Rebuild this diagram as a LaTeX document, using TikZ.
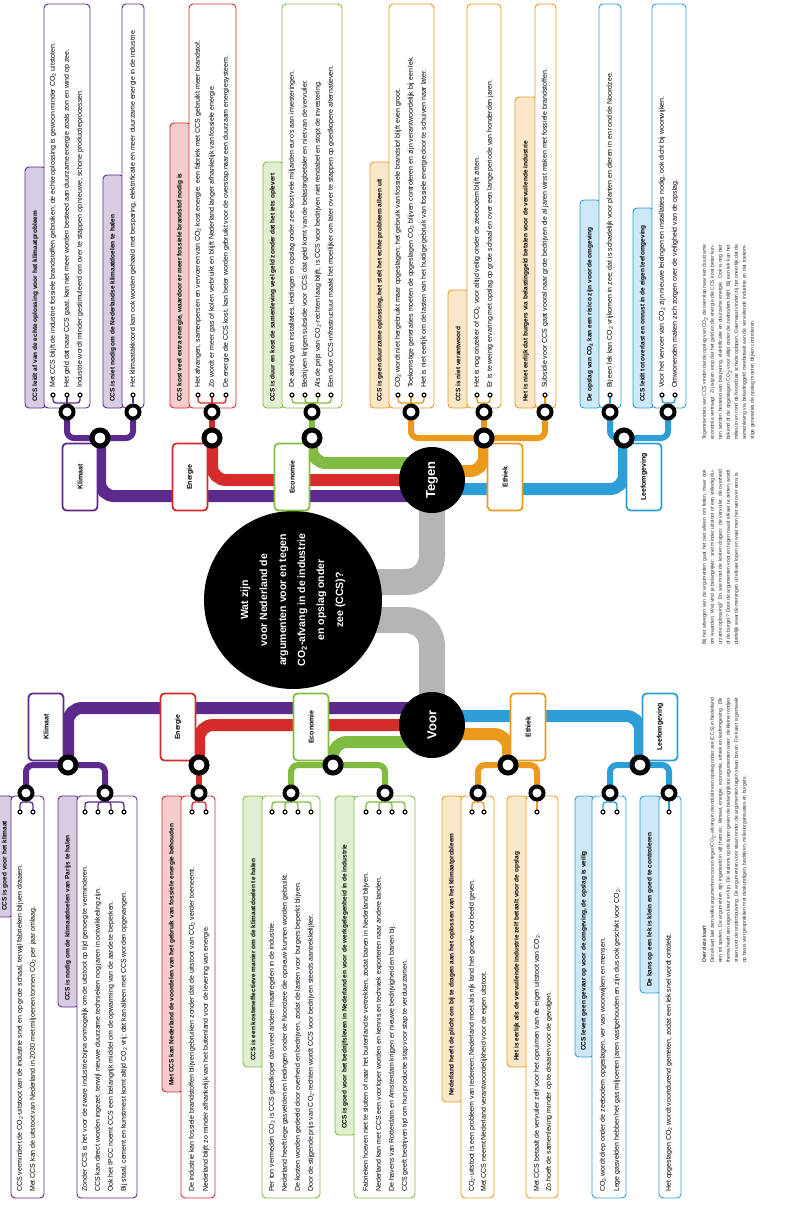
\documentclass[tikz,border=0pt]{standalone}
\usepackage{fontspec}
\setmainfont{Liberation Sans}
\definecolor{klimaat}{HTML}{5B2A8C}
\definecolor{energie}{HTML}{D52B2B}
\definecolor{economie}{HTML}{80BC41}
\definecolor{ethiek}{HTML}{EC9A1E}
\definecolor{leef}{HTML}{2E9ED8}
\definecolor{spoor}{HTML}{B5B5B5}
\newcommand{\COtwo}{CO\textsubscript{2}}
\pgfdeclarelayer{bg}
\pgfsetlayers{bg,main}

\begin{document}
\begin{tikzpicture}[x=1pt, y=-1pt,
  route/.style={line width=12pt, rounded corners=14pt},
  gray route/.style={line width=26pt, rounded corners=26pt, spoor},
  branch/.style={line width=6pt, rounded corners=7pt},
  twig/.style={line width=1.3pt, rounded corners=3pt},
  hub/.style={circle, fill=black, text=white, rotate=90, minimum size=66pt, inner sep=0pt, font=\bfseries\fontsize{13}{13}\selectfont},
  station/.style={circle, draw=black, fill=white, line width=5pt, minimum size=16pt, inner sep=0pt},
  substation/.style={circle, draw=black, fill=white, line width=4pt, minimum size=13pt, inner sep=0pt},
  halte/.style={circle, draw=black, fill=white, line width=1.1pt, minimum size=4pt, inner sep=0pt},
  catbox/.style={draw=#1, fill=white, line width=1.8pt, rounded corners=4pt, rotate=90, minimum width=67pt, minimum height=35pt, inner sep=1pt, font=\bfseries\fontsize{7}{7}\selectfont},
  claim/.style={draw=#1, fill=#1!24, line width=0.9pt, rounded corners=4pt},
  card/.style={draw=#1, fill=white, line width=0.9pt, rounded corners=4pt},
  claimtext/.style={rotate=90, anchor=west, inner sep=0pt, font=\bfseries\fontsize{6.5}{6.5}\selectfont},
  cardtext/.style={rotate=90, anchor=west, inner sep=0pt, font=\fontsize{7}{7}\selectfont},
  note/.style={rotate=90, anchor=north west, inner sep=0pt, align=justify, text=black!85, font=\fontsize{5}{8}\selectfont}]
\useasboundingbox (0,0) rectangle (807,1205);

% stations tegen
\coordinate (tKl) at (100,438);
\coordinate (tKla) at (67,412);
\coordinate (tKlb) at (133,412);
\coordinate (tEn) at (212,438);
\coordinate (tEna) at (212,412);
\coordinate (tEc) at (312,438);
\coordinate (tEca) at (312,412);
\coordinate (tEt) at (484,438);
\coordinate (tEta) at (411,412);
\coordinate (tEtb) at (484,412);
\coordinate (tEtc) at (545,412);
\coordinate (tLe) at (624,438);
\coordinate (tLea) at (610,412);
\coordinate (tLeb) at (668,412);
% stations voor
\coordinate (vKl) at (68,765);
\coordinate (vKla) at (26,793);
\coordinate (vKlb) at (105,793);
\coordinate (vEn) at (199,765);
\coordinate (vEna) at (199,793);
\coordinate (vEc) at (333,765);
\coordinate (vEca) at (291,793);
\coordinate (vEcb) at (385,793);
\coordinate (vEt) at (508,765);
\coordinate (vEta) at (478,793);
\coordinate (vEtb) at (537,793);
\coordinate (vLe) at (640,765);
\coordinate (vLea) at (610,793);
\coordinate (vLeb) at (669,793);

\node[hub, minimum size=178pt, align=center, font=\bfseries\fontsize{10.5}{19}\selectfont] (vraag) at (293,600)
  {Wat zijn\\voor Nederland de\\argumenten voor en tegen\\\COtwo-afvang in de industrie\\en opslag onder\\zee (CCS)?};
\node[hub] (tegen) at (432,480) {Tegen};
\node[hub] (voor) at (432,725) {Voor};

\node[catbox=klimaat] (tKlbox) at (80,477) {Klimaat};
\node[catbox=energie] (tEnbox) at (190,477) {Energie};
\node[catbox=economie] (tEcbox) at (292,477) {Economie};
\node[catbox=ethiek] (tEtbox) at (505,477) {Ethiek};
\node[catbox=leef] (tLebox) at (644,477) {Leefomgeving};
\node[catbox=klimaat] (vKlbox) at (46,727) {Klimaat};
\node[catbox=energie] (vEnbox) at (178,727) {Energie};
\node[catbox=economie] (vEcbox) at (311,727) {Economie};
\node[catbox=ethiek] (vEtbox) at (528,727) {Ethiek};
\node[catbox=leef] (vLebox) at (660,727) {Leefomgeving};

\begin{pgfonlayer}{bg}
  \draw[gray route] ([yshift=18pt]vraag.center) -| (tegen.center);
  \draw[gray route] ([yshift=-20pt]vraag.center) -| (voor.center);
  % lijnen tegen
  \draw[route, economie] ([yshift=17pt]tegen.center) -| (tEc);
  \draw[route, energie] (tegen.center) -| (tEn);
  \draw[route, klimaat] ([yshift=-16pt]tegen.center) -| (tKl);
  \draw[route, ethiek] ([yshift=9pt]tegen.center) -| (tEt);
  \draw[route, leef] ([yshift=-9pt]tegen.center) -| (tLe);
  % lijnen voor
  \draw[route, klimaat] ([yshift=17pt]voor.center) -| (vKl);
  \draw[route, energie] (voor.center) -| (vEn);
  \draw[route, economie] ([yshift=-17pt]voor.center) -| (vEc);
  \draw[route, leef] ([yshift=9pt]voor.center) -| (vLe);
  \draw[route, ethiek] ([yshift=-9pt]voor.center) -| (vEt);
  % zijtakken
  \draw[branch, klimaat] (tKla) |- (tKl) -| (tKlb);
  \draw[branch, energie] (tEna) -- (tEn);
  \draw[branch, economie] (tEca) -- (tEc);
  \draw[branch, ethiek] (tEta) |- (tEt) -| (tEtc);
  \draw[branch, ethiek] (tEtb) -- (tEt);
  \draw[branch, leef] (tLea) |- (tLe) -| (tLeb);
  \draw[branch, klimaat] (vKla) |- (vKl) -| (vKlb);
  \draw[branch, energie] (vEna) -- (vEn);
  \draw[branch, economie] (vEca) |- (vEc) -| (vEcb);
  \draw[branch, ethiek] (vEta) |- (vEt) -| (vEtb);
  \draw[branch, leef] (vLea) |- (vLe) -| (vLeb);
\end{pgfonlayer}

% ---- tegen: klimaat
\draw[claim=klimaat] (25,167) rectangle (46,408);
\node[claimtext] (tKla-kop) at (35.5,402) {CCS leidt af van de echte oplossing voor het klimaatprobleem};
\draw[card=klimaat] (44,4) rectangle (90,408);
\node[cardtext] (tKla-1) at (53,388) {Met CCS blijft de industrie fossiele brandstoffen gebruiken; de echte oplossing is gewoon minder \COtwo\ uitstoten.};
\node[cardtext] (tKla-2) at (67,388) {Het geld dat naar CCS gaat, kan niet meer worden besteed aan duurzame energie zoals zon en wind op zee.};
\node[cardtext] (tKla-3) at (80,388) {Industrie wordt minder gestimuleerd om over te stappen op nieuwe, schone productieprocessen.};
\draw[claim=klimaat] (103,175) rectangle (124,408);
\node[claimtext] (tKlb-kop) at (113,402) {CCS is niet nodig om de Nederlandse klimaatdoelen te halen};
\draw[card=klimaat] (122,4) rectangle (144,408);
\node[cardtext] (tKlb-1) at (133,388) {Het klimaatakkoord kan ook worden gehaald met besparing, elektrificatie en meer duurzame energie in de industrie.};
% ---- tegen: energie
\draw[claim=energie] (170,123) rectangle (191,408);
\node[claimtext] (tEna-kop) at (180,402) {CCS kost veel extra energie, waardoor er meer fossiele brandstof nodig is};
\draw[card=energie] (189,4) rectangle (236,408);
\node[cardtext] (tEna-1) at (198,388) {Het afvangen, samenpersen en vervoeren van \COtwo\ kost energie: een fabriek met CCS gebruikt meer brandstof.};
\node[cardtext] (tEna-2) at (212,388) {Zo wordt er meer gas of kolen verbruikt en blijft Nederland langer afhankelijk van fossiele energie.};
\node[cardtext] (tEna-3) at (226,388) {De energie die CCS kost, kan beter worden gebruikt voor de overstap naar een duurzaam energiesysteem.};
% ---- tegen: economie
\draw[claim=economie] (263,162) rectangle (284,408);
\node[claimtext] (tEca-kop) at (273,402) {CCS is duur en kost de samenleving veel geld zonder dat het iets oplevert};
\draw[card=economie] (282,4) rectangle (342,408);
\node[cardtext] (tEca-1) at (292,388) {De aanleg van installaties, leidingen en opslag onder zee kost vele miljarden euro's aan investeringen.};
\node[cardtext] (tEca-2) at (305,388) {Bedrijven krijgen subsidie voor CCS; dat geld komt van de belastingbetaler en niet van de vervuiler.};
\node[cardtext] (tEca-3) at (318,388) {Als de prijs van \COtwo-rechten laag blijft, is CCS voor bedrijven niet rendabel en stopt de investering.};
\node[cardtext] (tEca-4) at (331,388) {Een dure CCS-infrastructuur maakt het moeilijker om later over te stappen op goedkopere alternatieven.};
% ---- tegen: ethiek
\draw[claim=ethiek] (370,162) rectangle (391,408);
\node[claimtext] (tEta-kop) at (380,402) {CCS is geen duurzame oplossing, het stelt het echte probleem alleen uit};
\draw[card=ethiek] (389,4) rectangle (434,408);
\node[cardtext] (tEta-1) at (398,388) {\COtwo\ wordt niet hergebruikt maar opgeslagen; het gebruik van fossiele brandstof blijft even groot.};
\node[cardtext] (tEta-2) at (411,388) {Toekomstige generaties moeten de opgeslagen \COtwo\ blijven controleren en zijn verantwoordelijk bij een lek.};
\node[cardtext] (tEta-3) at (424,388) {Het is niet eerlijk om de lasten van het huidige gebruik van fossiele energie door te schuiven naar later.};
\draw[claim=ethiek] (448,290) rectangle (469,408);
\node[claimtext] (tEtb-kop) at (458,402) {CCS is niet verantwoord};
\draw[card=ethiek] (467,4) rectangle (501,408);
\node[cardtext] (tEtb-1) at (477,388) {Het is nog onzeker of \COtwo\ voor altijd veilig onder de zeebodem blijft zitten.};
\node[cardtext] (tEtb-2) at (490,388) {Er is te weinig ervaring met opslag op grote schaal en over een lange periode van honderden jaren.};
\draw[claim=ethiek] (515,97) rectangle (537,408);
\node[claimtext] (tEtc-kop) at (526,402) {Het is niet eerlijk dat burgers via belastinggeld betalen voor de vervuilende industrie};
\draw[card=ethiek] (535,4) rectangle (556,408);
\node[cardtext] (tEtc-1) at (545,388) {Subsidie voor CCS gaat vooral naar grote bedrijven die al jaren winst maken met fossiele brandstoffen.};
% ---- tegen: leefomgeving
\draw[claim=leef] (580,200) rectangle (601,408);
\node[claimtext] (tLea-kop) at (590,402) {De opslag van \COtwo\ kan een risico zijn voor de omgeving};
\draw[card=leef] (599,4) rectangle (621,408);
\node[cardtext] (tLea-1) at (610,388) {Bij een lek kan \COtwo\ vrijkomen in zee; dat is schadelijk voor planten en dieren in en rond de Noordzee.};
\draw[claim=leef] (633,208) rectangle (654,408);
\node[claimtext] (tLeb-kop) at (643,402) {CCS leidt tot overlast en onrust in de eigen leefomgeving};
\draw[card=leef] (652,4) rectangle (686,408);
\node[cardtext] (tLeb-1) at (662,388) {Voor het vervoer van \COtwo\ zijn nieuwe leidingen en installaties nodig, ook dicht bij woonwijken.};
\node[cardtext] (tLeb-2) at (675,388) {Omwonenden maken zich zorgen over de veiligheid van de opslag.};

% ---- voor: klimaat
\draw[claim=klimaat] (-8,796) rectangle (13,917);
\node[claimtext] (vKla-kop) at (5,911) {CCS is goed voor het klimaat};
\draw[card=klimaat] (11,796) rectangle (44,1198);
\node[cardtext] (vKla-1) at (20,1192) {CCS vermindert de \COtwo-uitstoot van de industrie snel en op grote schaal, terwijl fabrieken blijven draaien.};
\node[cardtext] (vKla-2) at (33,1192) {Met CCS kan de uitstoot van Nederland in 2030 met miljoenen tonnen \COtwo\ per jaar omlaag.};
\draw[claim=klimaat] (58,796) rectangle (79,1007);
\node[claimtext] (vKlb-kop) at (68,1001) {CCS is nodig om de klimaatdoelen van Parijs te halen};
\draw[card=klimaat] (77,796) rectangle (137,1198);
\node[cardtext] (vKlb-1) at (85,1192) {Zonder CCS is het voor de zware industrie bijna onmogelijk om de uitstoot op tijd genoeg te verminderen.};
\node[cardtext] (vKlb-2) at (98,1192) {CCS kan direct worden ingezet, terwijl nieuwe duurzame technieken nog jaren in ontwikkeling zijn.};
\node[cardtext] (vKlb-3) at (111,1192) {Ook het IPCC noemt CCS een belangrijk middel om de opwarming van de aarde te beperken.};
\node[cardtext] (vKlb-4) at (124,1192) {Bij staal, cement en kunstmest komt altijd \COtwo\ vrij; dat kan alleen met CCS worden opgevangen.};
% ---- voor: energie
\draw[claim=energie] (162,796) rectangle (183,1092);
\node[claimtext] (vEna-kop) at (172,1086) {Met CCS kan Nederland de voordelen van het gebruik van fossiele energie behouden};
\draw[card=energie] (181,796) rectangle (215,1198);
\node[cardtext] (vEna-1) at (192,1192) {De industrie kan fossiele brandstoffen blijven gebruiken zonder dat de uitstoot van \COtwo\ verder toeneemt.};
\node[cardtext] (vEna-2) at (206,1192) {Nederland blijft zo minder afhankelijk van het buitenland voor de levering van energie.};
% ---- voor: economie
\draw[claim=economie] (243,796) rectangle (264,1067);
\node[claimtext] (vEca-kop) at (253,1061) {CCS is een kosteneffectieve manier om de klimaatdoelen te halen};
\draw[card=economie] (262,796) rectangle (320,1198);
\node[cardtext] (vEca-1) at (272,1192) {Per ton vermeden \COtwo\ is CCS goedkoper dan veel andere maatregelen in de industrie.};
\node[cardtext] (vEca-2) at (285,1192) {Nederland heeft lege gasvelden en leidingen onder de Noordzee die opnieuw kunnen worden gebruikt.};
\node[cardtext] (vEca-3) at (298,1192) {De kosten worden gedeeld door overheid en bedrijven, zodat de lasten voor burgers beperkt blijven.};
\node[cardtext] (vEca-4) at (311,1192) {Door de stijgende prijs van \COtwo-rechten wordt CCS voor bedrijven steeds aantrekkelijker.};
\draw[claim=economie] (335,796) rectangle (356,1135);
\node[claimtext] (vEcb-kop) at (345,1129) {CCS is goed voor het bedrijfsleven in Nederland en voor de werkgelegenheid in de industrie};
\draw[card=economie] (354,796) rectangle (415,1198);
\node[cardtext] (vEcb-1) at (366,1192) {Fabrieken hoeven niet te sluiten of naar het buitenland te vertrekken, zodat banen in Nederland blijven.};
\node[cardtext] (vEcb-2) at (379,1192) {Nederland kan met CCS een voorloper worden en kennis en techniek exporteren naar andere landen.};
\node[cardtext] (vEcb-3) at (392,1192) {De havens van Rotterdam en Amsterdam krijgen er nieuwe bedrijvigheid en banen bij.};
\node[cardtext] (vEcb-4) at (405,1192) {CCS geeft bedrijven tijd om hun productie stap voor stap te verduurzamen.};
% ---- voor: ethiek
\draw[claim=ethiek] (442,796) rectangle (463,1102);
\node[claimtext] (vEta-kop) at (452,1096) {Nederland heeft de plicht om bij te dragen aan het oplossen van het klimaatprobleem};
\draw[card=ethiek] (461,796) rectangle (494,1198);
\node[cardtext] (vEta-1) at (472,1192) {\COtwo-uitstoot is een probleem van iedereen; Nederland moet als rijk land het goede voorbeeld geven.};
\node[cardtext] (vEta-2) at (484,1192) {Met CCS neemt Nederland verantwoordelijkheid voor de eigen uitstoot.};
\draw[claim=ethiek] (507,796) rectangle (528,1067);
\node[claimtext] (vEtb-kop) at (517,1061) {Het is eerlijk als de vervuilende industrie zelf betaalt voor de opslag};
\draw[card=ethiek] (526,796) rectangle (558,1198);
\node[cardtext] (vEtb-1) at (537,1192) {Met CCS betaalt de vervuiler zelf voor het opruimen van de eigen uitstoot van \COtwo.};
\node[cardtext] (vEtb-2) at (549,1192) {Zo hoeft de samenleving minder op te draaien voor de gevolgen.};
% ---- voor: leefomgeving
\draw[claim=leef] (575,796) rectangle (594,1057);
\node[claimtext] (vLea-kop) at (584,1051) {CCS levert geen gevaar op voor de omgeving, de opslag is veilig};
\draw[card=leef] (592,796) rectangle (626,1198);
\node[cardtext] (vLea-1) at (603,1192) {\COtwo\ wordt diep onder de zeebodem opgeslagen, ver van woonwijken en mensen.};
\node[cardtext] (vLea-2) at (617,1192) {Lege gasvelden hebben het gas miljoenen jaren vastgehouden en zijn dus ook geschikt voor \COtwo.};
\draw[claim=leef] (640,796) rectangle (661,993);
\node[claimtext] (vLeb-kop) at (650,987) {De kans op een lek is klein en goed te controleren};
\draw[card=leef] (659,796) rectangle (681,1198);
\node[cardtext] (vLeb-1) at (669,1192) {Het opgeslagen \COtwo\ wordt voortdurend gemeten, zodat een lek snel wordt ontdekt.};

% takjes naar de haltes
\foreach \x in {53,67,80} {\draw[twig, klimaat] (\x,395) |- ([yshift=9pt]tKla); \node[halte] (tKla-\x) at (\x,395) {};}
\foreach \x in {133} {\draw[twig, klimaat] (\x,395) |- ([yshift=9pt]tKlb); \node[halte] (tKlb-\x) at (\x,395) {};}
\foreach \x in {198,212,226} {\draw[twig, energie] (\x,395) |- ([yshift=9pt]tEna); \node[halte] (tEna-\x) at (\x,395) {};}
\foreach \x in {292,305,318,331} {\draw[twig, economie] (\x,395) |- ([yshift=9pt]tEca); \node[halte] (tEca-\x) at (\x,395) {};}
\foreach \x in {398,411,424} {\draw[twig, ethiek] (\x,395) |- ([yshift=9pt]tEta); \node[halte] (tEta-\x) at (\x,395) {};}
\foreach \x in {477,490} {\draw[twig, ethiek] (\x,395) |- ([yshift=9pt]tEtb); \node[halte] (tEtb-\x) at (\x,395) {};}
\foreach \x in {545} {\draw[twig, ethiek] (\x,395) |- ([yshift=9pt]tEtc); \node[halte] (tEtc-\x) at (\x,395) {};}
\foreach \x in {610} {\draw[twig, leef] (\x,395) |- ([yshift=9pt]tLea); \node[halte] (tLea-\x) at (\x,395) {};}
\foreach \x in {662,675} {\draw[twig, leef] (\x,395) |- ([yshift=9pt]tLeb); \node[halte] (tLeb-\x) at (\x,395) {};}
\foreach \x in {20,33} {\draw[twig, klimaat] (\x,812) |- ([yshift=-9pt]vKla); \node[halte] (vKla-\x) at (\x,812) {};}
\foreach \x in {85,98,111,124} {\draw[twig, klimaat] (\x,812) |- ([yshift=-9pt]vKlb); \node[halte] (vKlb-\x) at (\x,812) {};}
\foreach \x in {192,206} {\draw[twig, energie] (\x,812) |- ([yshift=-9pt]vEna); \node[halte] (vEna-\x) at (\x,812) {};}
\foreach \x in {272,285,298,311} {\draw[twig, economie] (\x,812) |- ([yshift=-9pt]vEca); \node[halte] (vEca-\x) at (\x,812) {};}
\foreach \x in {366,379,392,405} {\draw[twig, economie] (\x,812) |- ([yshift=-9pt]vEcb); \node[halte] (vEcb-\x) at (\x,812) {};}
\foreach \x in {472,484} {\draw[twig, ethiek] (\x,812) |- ([yshift=-9pt]vEta); \node[halte] (vEta-\x) at (\x,812) {};}
\foreach \x in {537} {\draw[twig, ethiek] (\x,812) |- ([yshift=-9pt]vEtb); \node[halte] (vEtb-\x) at (\x,812) {};}
\foreach \x in {603,617} {\draw[twig, leef] (\x,812) |- ([yshift=-9pt]vLea); \node[halte] (vLea-\x) at (\x,812) {};}
\foreach \x in {669} {\draw[twig, leef] (\x,812) |- ([yshift=-9pt]vLeb); \node[halte] (vLeb-\x) at (\x,812) {};}

% ringen
\foreach \s in {tKla,tKlb,tEna,tEca,tEta,tEtb,tEtc,tLea,tLeb,vKla,vKlb,vEna,vEca,vEcb,vEta,vEtb,vLea,vLeb}
  \node[substation] (\s-ring) at (\s) {};
\foreach \s in {tKl,tEn,tEc,tEt,tLe,vKl,vEn,vEc,vEt,vLe}
  \node[station] (\s-ring) at (\s) {};

% toelichting
\node[note, text width=195pt] (uitleg1) at (702,440) {Tegenstanders van CCS vinden dat de opslag van \COtwo\ de overstap naar een duurzame economie vertraagt. Zij wijzen erop dat het geld en de energie die CCS kost beter kunnen worden besteed aan besparing, elektrificatie en duurzame energie. Ook is nog niet bekend of de opgeslagen \COtwo\ voor altijd onder de zeebodem blijft. Bij een lek kan het milieu in en rond de Noordzee schade oplopen. Daarnaast vinden zij het oneerlijk dat de samenleving via belastinggeld meebetaalt aan de vervuilende industrie en dat toekomstige generaties de opslag moeten blijven controleren.};
\node[note, text width=175pt] (uitleg2) at (702,645) {Bij het afwegen van de argumenten gaat het niet alleen om feiten, maar ook om waarden. Wat vind je belangrijker: snel minder uitstoot of een volledig duurzame oplossing? En wie moet de kosten dragen: de vervuiler, de overheid of de burger? Door de argumenten voor en tegen naast elkaar te zetten, wordt duidelijk waar de meningen uit elkaar lopen en waar men het wel over eens is.};
\node[note, text width=265pt] (uitleg3) at (702,963) {\textbf{Over deze kaart}\\Deze kaart laat zien welke argumenten voor en tegen \COtwo-afvang in de industrie en opslag onder zee (CCS) in Nederland een rol spelen. De argumenten zijn ingedeeld in vijf thema's: klimaat, energie, economie, ethiek en leefomgeving. Elk thema heeft een eigen kleur en lijn. De stations op de lijnen geven de belangrijkste argumenten weer; de kleine rondjes staan voor de onderbouwing. De argumenten voor staan onder, de argumenten tegen staan boven. De kaart is gemaakt op basis van gesprekken met deskundigen, bedrijven, milieuorganisaties en burgers.};
\end{tikzpicture}
\end{document}
